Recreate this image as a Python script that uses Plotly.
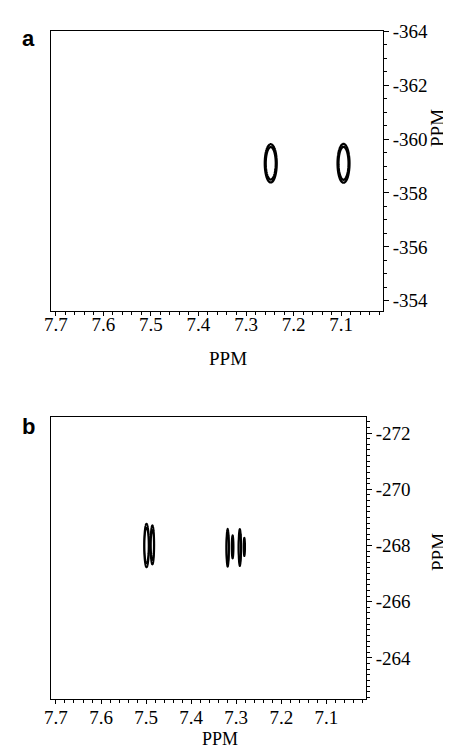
import numpy as np
import plotly.graph_objects as go

# ---------------- data ----------------
x_tick_vals = [7.7, 7.6, 7.5, 7.4, 7.3, 7.2, 7.1]
x_tick_text = ["7.7", "7.6", "7.5", "7.4", "7.3", "7.2", "7.1"]

a_y_tick_vals = [-364, -362, -360, -358, -356, -354]
a_y_tick_text = ["-364", "-362", "-360", "-358", "-356", "-354"]
b_y_tick_vals = [-272, -270, -268, -266, -264]
b_y_tick_text = ["-272", "-270", "-268", "-266", "-264"]

# panel a cross peaks (1H ppm, 15N ppm, half-width 1H, half-height 15N, amplitude)
a_peak_h = [7.248, 7.095]
a_peak_n = [-359.1, -359.1]
a_peak_hw = [0.0125, 0.0125]
a_peak_hh = [0.71, 0.72]
a_peak_amp = [1.0, 1.0]

# panel b cross peaks
b_peak_h = [7.499, 7.486, 7.319, 7.308, 7.292, 7.282]
b_peak_n = [-268.0, -268.02, -267.92, -267.95, -267.93, -267.95]
b_peak_hw = [0.0055, 0.0042, 0.0030, 0.0022, 0.0030, 0.0018]
b_peak_hh = [0.78, 0.70, 0.68, 0.42, 0.66, 0.33]
b_peak_amp = [1.0, 0.8, 1.0, 0.5, 1.0, 0.42]

CONTOUR_START = 0.3


def spectrum(hx, ny, ph, pn, phw, phh, pamp):
    X, Y = np.meshgrid(hx, ny)
    Z = np.zeros_like(X)
    for h, n, hw, hh, a in zip(ph, pn, phw, phh, pamp):
        k = np.sqrt(2 * np.log(a / CONTOUR_START))
        sx, sy = hw / k, hh / k
        Z += a * np.exp(-0.5 * (((X - h) / sx) ** 2 + ((Y - n) / sy) ** 2))
    return Z.astype(np.float32)


a_hx = np.arange(7.04, 7.31, 0.001)
a_ny = np.arange(-361.0, -357.0, 0.02)
a_z = spectrum(a_hx, a_ny, a_peak_h, a_peak_n, a_peak_hw, a_peak_hh, a_peak_amp)

b_hx = np.arange(7.26, 7.53, 0.0005)
b_ny = np.arange(-269.6, -266.4, 0.025)
b_z = spectrum(b_hx, b_ny, b_peak_h, b_peak_n, b_peak_hw, b_peak_hh, b_peak_amp)

W, H = 451, 748
SERIF = "Liberation Serif"

fig = go.Figure()
black = [[0, "black"], [1, "black"]]
fig.add_trace(go.Contour(x=a_hx, y=a_ny, z=a_z, xaxis="x", yaxis="y",
                         contours=dict(coloring="lines", start=0.3, end=0.43, size=0.12),
                         colorscale=black, showscale=False, line=dict(width=2.3),
                         hoverinfo="skip"))
fig.add_trace(go.Contour(x=b_hx, y=b_ny, z=b_z, xaxis="x2", yaxis="y2",
                         contours=dict(coloring="lines", start=0.3, end=0.46, size=0.15),
                         colorscale=black, showscale=False, line=dict(width=1.8),
                         hoverinfo="skip"))


def px_dom_x(a, b):
    return [a / W, b / W]


def px_dom_y(top, bottom):
    return [1 - bottom / H, 1 - top / H]


common_x = dict(tickmode="array", tickvals=x_tick_vals, ticktext=x_tick_text,
                ticks="outside", ticklen=4, tickwidth=1, tickcolor="black",
                minor=dict(tickmode="linear", tick0=7.0, dtick=0.02, ticks="outside",
                           ticklen=3, tickcolor="black", tickwidth=1, showgrid=False),
                showline=True, linecolor="black", linewidth=1, mirror=True,
                showgrid=False, zeroline=False, automargin=False,
                tickfont=dict(family=SERIF, size=19, color="black"))
common_y = dict(tickmode="array", side="right",
                ticks="outside", ticklen=5, tickwidth=1, tickcolor="black",
                showline=True, linecolor="black", linewidth=1, mirror=True,
                showgrid=False, zeroline=False, automargin=False,
                tickfont=dict(family=SERIF, size=19, color="black"))

fig.update_layout(
    width=W, height=H, margin=dict(l=0, r=0, t=0, b=0),
    paper_bgcolor="white", plot_bgcolor="white", showlegend=False,
    xaxis=dict(domain=px_dom_x(43, 375), anchor="y", range=[7.71, 7.012],
               ticklabelstandoff=-8, **common_x),
    yaxis=dict(domain=px_dom_y(23, 303), anchor="x", range=[-353.62, -364.01],
               tickvals=a_y_tick_vals, ticktext=a_y_tick_text,
               minor=dict(tickmode="linear", tick0=-364, dtick=0.5, ticks="outside",
                          ticklen=3, tickcolor="black", tickwidth=1, showgrid=False),
               **common_y),
    xaxis2=dict(domain=px_dom_x(43, 358), anchor="y2", range=[7.711, 7.012],
                ticklabelstandoff=-3, **common_x),
    yaxis2=dict(domain=px_dom_y(409, 691), anchor="x2", range=[-262.54, -272.57],
                tickvals=b_y_tick_vals, ticktext=b_y_tick_text,
                minor=dict(tickmode="linear", tick0=-272, dtick=0.2, ticks="outside",
                           ticklen=3, tickcolor="black", tickwidth=1, showgrid=False),
                **common_y),
)


def ann(text, x, y, size, family=SERIF, angle=0):
    fig.add_annotation(text=text, x=x / W, y=1 - y / H, xref="paper", yref="paper",
                       xanchor="center", yanchor="middle", showarrow=False,
                       textangle=angle, font=dict(family=family, size=size, color="black"))


ann("<b>a</b>", 20, 30, 22, family="Liberation Sans")
ann("<b>b</b>", 20, 418, 22, family="Liberation Sans")
ann("PPM", 220, 350, 19)
ann("PPM", 212, 731, 18)
ann("PPM", 430, 120, 19, angle=-90)
ann("PPM", 430, 544, 19, angle=-90)

fig.write_html("out.html", config={"displayModeBar": False})
